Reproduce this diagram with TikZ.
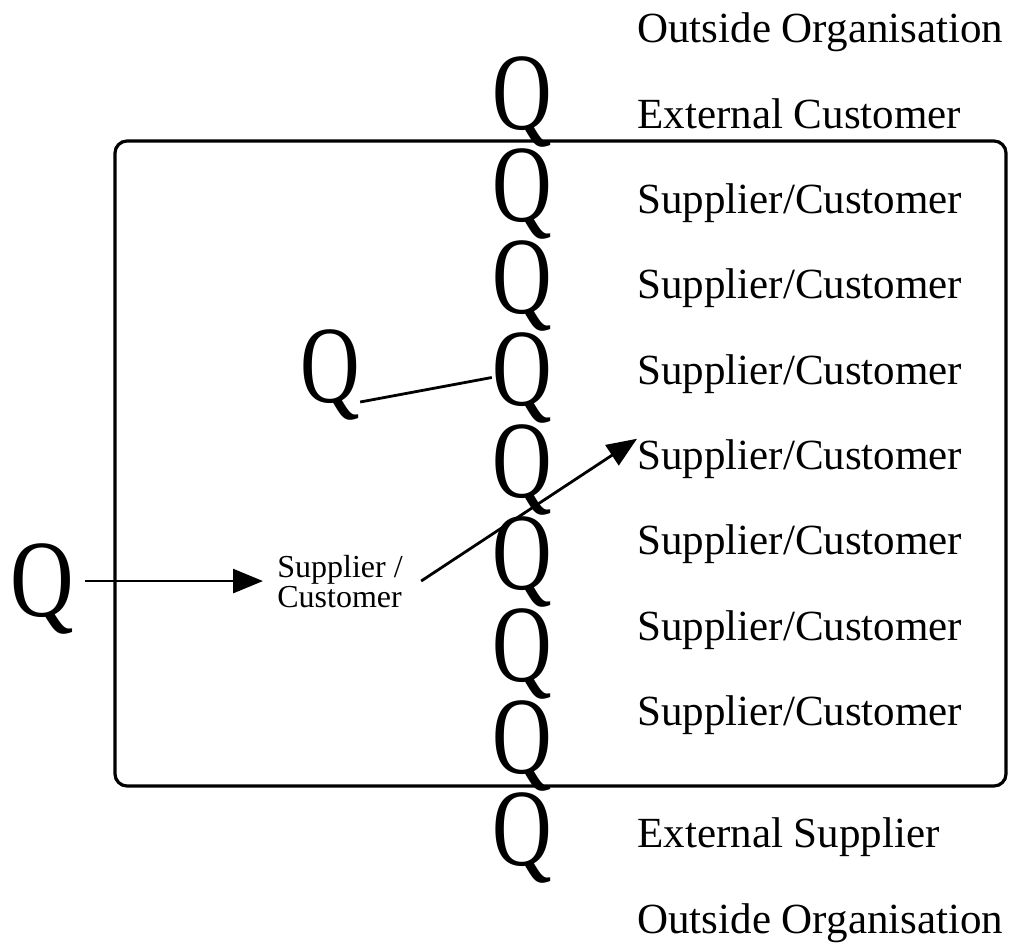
\documentclass[tikz,border=0pt]{standalone}
\usepackage{fontspec}
\setmainfont{Liberation Serif}
\usetikzlibrary{arrows.meta}

\newcommand{\narrowq}[1][0.75]{\scalebox{#1}[1]{Q}}

\begin{document}
\begin{tikzpicture}[x=0.5pt,y=-0.5pt,inner sep=0pt,
  qmark/.style={anchor=base,font=\fontsize{55}{60}\selectfont},
  lab/.style={anchor=base west,font=\fontsize{21.5}{26}\selectfont},
  arr/.style={-{Triangle[length=15pt,width=12pt]},line width=1.4pt}]

\useasboundingbox (0,0) rectangle (1009,943);

\draw[line width=1.6pt,rounded corners=6pt] (115,141) rectangle (1006,786);

% chain of Qs
\node(q1) at (522,129) [qmark] {\narrowq};
\node(q2) at (522,221) [qmark] {\narrowq};
\node(q3) at (522,313) [qmark] {\narrowq};
\node(q4) at (522,405) [qmark] {\narrowq};
\node(q5) at (522,497) [qmark] {\narrowq};
\node(q6) at (522,589) [qmark] {\narrowq};
\node(q7) at (522,681) [qmark] {\narrowq};
\node(q8) at (522,773) [qmark] {\narrowq};
\node(q9) at (522,865) [qmark] {\narrowq};

\node(qs) at (330,402) [qmark] {\narrowq};
\node(ql) at (42,616) [qmark] {\narrowq[0.8]};

\node(oo1) at (637,42) [lab] {Outside Organisation};
\node(ec) at (637,128) [lab] {External Customer};
\node(sc1) at (637,213) [lab] {Supplier/Customer};
\node(sc2) at (637,298) [lab] {Supplier/Customer};
\node(sc3) at (637,384) [lab] {Supplier/Customer};
\node(sc4) at (637,469) [lab] {Supplier/Customer};
\node(sc5) at (637,554) [lab] {Supplier/Customer};
\node(sc6) at (637,640) [lab] {Supplier/Customer};
\node(sc7) at (637,725) [lab] {Supplier/Customer};
\node(es) at (637,847) [lab] {External Supplier};
\node(oo2) at (637,933) [lab] {Outside Organisation};

\node(mid) at (277,607) [anchor=base west,align=left,font=\fontsize{16}{12.5}\selectfont] {Supplier /\\Customer};

\draw[line width=1.4pt] (qs.base east) -- (q4.west);
\draw[arr,shorten >=7pt] ([xshift=5.5pt]ql.east |- mid.west) -- (mid.west);
\draw[arr] ([xshift=9pt]mid.east) -- (sc4.north west);

\end{tikzpicture}
\end{document}
